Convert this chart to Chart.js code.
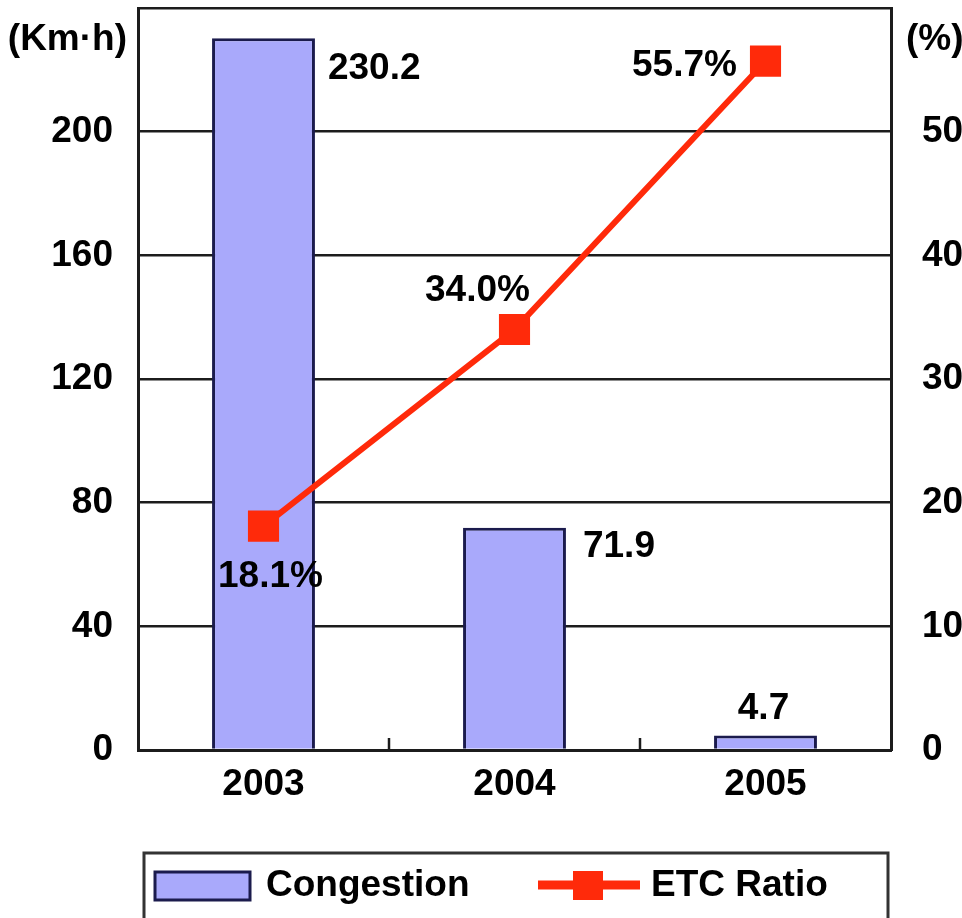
<!DOCTYPE html>
<html>
<head>
<meta charset="utf-8">
<title>Congestion and ETC Ratio</title>
<script src="https://cdn.jsdelivr.net/npm/chart.js@4.4.1/dist/chart.umd.min.js"></script>
<style>
  html, body { margin: 0; padding: 0; background: #ffffff; }
  #wrap { width: 962px; height: 918px; position: relative; overflow: hidden; }
</style>
</head>
<body>
<div id="wrap"><canvas id="chart" width="962" height="918"></canvas></div>
<script>
// Data
const years = ['2003', '2004', '2005'];
const congestion = [230.2, 71.9, 4.7];   // Km·h
const etcRatio = [18.1, 34.0, 55.7];     // %
const congestionLabel = 'Congestion';
const etcLabel = 'ETC Ratio';
const leftUnit = '(Km·h)';
const rightUnit = '(%)';

// Styling
const FONT = '"Liberation Sans", Arial, Helvetica, sans-serif';
const FONT_SIZE = 37;
const BAR_FILL = '#a9a9fb';
const BAR_EDGE = '#1b1b4d';
const LINE_RED = '#ff2a0a';
const INK = '#1c1c1c';

// Value label placement, per point
const barLabelPos = [
  { dx: 13, dy: 30, align: 'left' },
  { dx: 17, dy: 19, align: 'left' },
  { dx: -2, dy: -27, align: 'center' }
];
const lineLabelPos = [
  { dx: 7, dy: 51 },
  { dx: -37, dy: -39 },
  { dx: -81, dy: 5 }
];

Chart.defaults.font.family = FONT;
Chart.defaults.font.weight = 'bold';
Chart.defaults.font.size = FONT_SIZE;
Chart.defaults.color = '#000000';

const valueLabels = {
  id: 'valueLabels',
  afterDatasetsDraw(chart) {
    const ctx = chart.ctx;
    ctx.save();
    ctx.font = 'bold ' + FONT_SIZE + 'px ' + FONT;
    ctx.fillStyle = '#000';
    ctx.textBaseline = 'middle';
    chart.getDatasetMeta(0).data.forEach((bar, i) => {
      const p = barLabelPos[i];
      const txt = congestion[i].toFixed(1);
      if (p.align === 'left') {
        ctx.textAlign = 'left';
        ctx.fillText(txt, bar.x + bar.width / 2 + p.dx, bar.y + p.dy);
      } else {
        ctx.textAlign = 'center';
        ctx.fillText(txt, bar.x + p.dx, bar.y + p.dy);
      }
    });
    chart.getDatasetMeta(1).data.forEach((pt, i) => {
      const p = lineLabelPos[i];
      ctx.textAlign = 'center';
      ctx.fillText(etcRatio[i].toFixed(1) + '%', pt.x + p.dx, pt.y + p.dy);
    });
    ctx.restore();
  }
};

// Unit captions above both value axes, inward tick marks and the boxed legend
const frameExtras = {
  id: 'frameExtras',
  afterDraw(chart) {
    const ctx = chart.ctx;
    const area = chart.chartArea;
    const xs = chart.scales.x;
    ctx.save();
    ctx.font = 'bold ' + FONT_SIZE + 'px ' + FONT;
    ctx.fillStyle = '#000';
    ctx.textBaseline = 'middle';
    ctx.textAlign = 'right';
    ctx.fillText(leftUnit, area.left - 11, area.top + 32);
    ctx.textAlign = 'left';
    ctx.fillText(rightUnit, area.right + 15, area.top + 32);

    // inward ticks between categories
    ctx.strokeStyle = INK;
    ctx.lineWidth = 2.5;
    for (let i = 0; i < years.length - 1; i++) {
      const bx = (xs.getPixelForValue(i) + xs.getPixelForValue(i + 1)) / 2;
      ctx.beginPath();
      ctx.moveTo(bx, area.bottom);
      ctx.lineTo(bx, area.bottom - 12);
      ctx.stroke();
    }

    // legend box
    const ds = chart.data.datasets;
    ctx.strokeStyle = '#333333';
    ctx.lineWidth = 3;
    ctx.strokeRect(144, 853, 744, 90);

    ctx.fillStyle = ds[0].backgroundColor;
    ctx.fillRect(155, 872, 95, 28);
    ctx.strokeStyle = ds[0].borderColor;
    ctx.lineWidth = 3;
    ctx.strokeRect(155, 872, 95, 28);
    ctx.fillStyle = '#000';
    ctx.textAlign = 'left';
    ctx.fillText(ds[0].label, 266, 886);

    ctx.strokeStyle = ds[1].borderColor;
    ctx.lineWidth = 9;
    ctx.beginPath();
    ctx.moveTo(538, 885);
    ctx.lineTo(640, 885);
    ctx.stroke();
    ctx.fillStyle = ds[1].pointBackgroundColor;
    ctx.fillRect(573, 871, 30, 29);
    ctx.fillStyle = '#000';
    ctx.fillText(ds[1].label, 651, 886);
    ctx.restore();
  }
};

function fixWidth(w) {
  return (scale) => {
    scale.width = w;
    scale.paddingTop = 0;
    scale.paddingBottom = 0;
  };
}

new Chart(document.getElementById('chart'), {
  type: 'bar',
  data: {
    labels: years,
    datasets: [
      {
        type: 'bar',
        label: congestionLabel,
        data: congestion,
        yAxisID: 'y',
        backgroundColor: BAR_FILL,
        borderColor: BAR_EDGE,
        borderWidth: 3,
        borderSkipped: 'bottom',
        categoryPercentage: 1,
        barPercentage: 0.41,
        order: 2
      },
      {
        type: 'line',
        label: etcLabel,
        data: etcRatio,
        yAxisID: 'y1',
        borderColor: LINE_RED,
        backgroundColor: LINE_RED,
        borderWidth: 6,
        pointStyle: 'rect',
        pointRadius: 22,
        pointBorderWidth: 0,
        pointBackgroundColor: LINE_RED,
        pointBorderColor: LINE_RED,
        tension: 0,
        order: 1
      }
    ]
  },
  options: {
    responsive: false,
    animation: false,
    devicePixelRatio: 1,
    layout: { autoPadding: false, padding: { top: 8, left: 0, right: 0, bottom: 0 } },
    plugins: {
      legend: { display: false },
      tooltip: { enabled: false }
    },
    scales: {
      x: {
        offset: true,
        grid: { display: true, drawOnChartArea: false, drawTicks: false },
        border: { display: true, color: INK, width: 3 },
        ticks: { padding: 13, color: '#000', font: { size: FONT_SIZE, weight: 'bold' } },
        afterFit(scale) {
          scale.height = 168;
          scale.paddingLeft = 0;
          scale.paddingRight = 0;
        }
      },
      y: {
        position: 'left',
        min: 0,
        max: 240,
        ticks: {
          stepSize: 40,
          padding: 25,
          color: '#000',
          font: { size: FONT_SIZE, weight: 'bold' },
          callback: (v) => (v >= 240 ? '' : v)
        },
        grid: { color: INK, lineWidth: 2.5, drawTicks: false },
        border: { display: true, color: INK, width: 3 },
        afterFit: fixWidth(138)
      },
      y1: {
        position: 'right',
        min: 0,
        max: 60,
        ticks: {
          stepSize: 10,
          padding: 31,
          color: '#000',
          font: { size: FONT_SIZE, weight: 'bold' },
          callback: (v) => (v >= 60 ? '' : v)
        },
        grid: { drawOnChartArea: false, drawTicks: false },
        border: { display: true, color: INK, width: 3 },
        afterFit: fixWidth(71)
      }
    }
  },
  plugins: [valueLabels, frameExtras]
});
</script>
</body>
</html>
